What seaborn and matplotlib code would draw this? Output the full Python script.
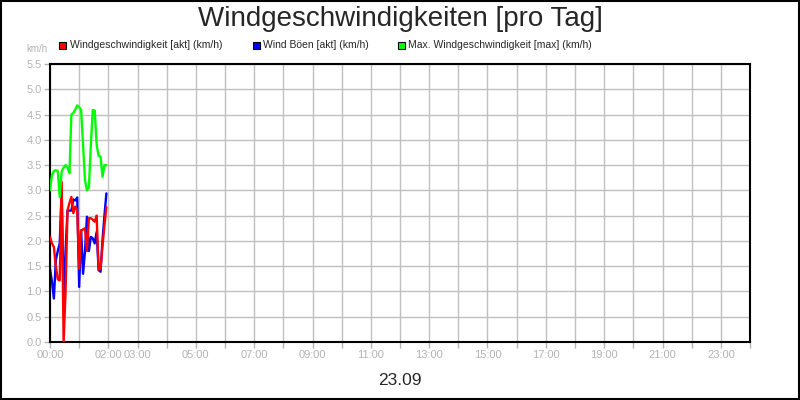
import matplotlib
matplotlib.use('Agg')
import matplotlib.pyplot as plt
from matplotlib.patches import Rectangle
import seaborn as sns
import numpy as np
import pandas as pd

# Messzeitpunkte (Minuten nach Mitternacht)
minutes = [0, 4, 8, 12, 16, 20, 24, 28, 32, 36, 40, 44, 48, 52, 56,
           60, 64, 68, 72, 76, 80, 84, 88, 92, 96, 100, 104, 108, 112, 116]

wind_akt = [2.08, 1.95, 1.88, 1.50, 1.24, 1.22, 3.17, 0.00, 1.00, 2.60,
            2.75, 2.87, 2.55, 2.68, 2.60, 1.45, 2.20, 2.23, 2.25, 1.80,
            2.45, 2.45, 2.42, 2.38, 2.50, 1.43, 1.45, 1.90, 2.30, 2.67]
boeen_akt = [1.45, 1.20, 0.86, 1.62, 1.80, 1.95, 3.00, 0.85, 1.80, 2.60,
             2.60, 2.60, 2.82, 2.80, 2.86, 1.09, 2.21, 1.35, 1.80, 2.48,
             1.80, 2.08, 2.05, 1.95, 2.18, 1.42, 1.39, 2.02, 2.50, 2.94]
wind_max = [3.00, 3.30, 3.38, 3.40, 3.38, 2.87, 3.37, 3.45, 3.50, 3.45,
            3.34, 4.50, 4.53, 4.60, 4.68, 4.65, 4.59, 3.90, 3.20, 3.00,
            3.05, 3.90, 4.59, 4.58, 3.90, 3.68, 3.67, 3.27, 3.50, 3.50]

series_names = ['Windgeschwindigkeit [akt] (km/h)',
                'Wind Böen [akt] (km/h)',
                'Max. Windgeschwindigkeit [max] (km/h)']
series_colors = ['#ff0000', '#0000ff', '#00ff00']

hour_ticks = list(range(0, 25))
labeled_hours = [0, 2, 3, 5, 7, 9, 11, 13, 15, 17, 19, 21, 23]
y_ticks = [i * 0.5 for i in range(12)]

hours = np.array(minutes) / 60.0
series_values = [wind_akt, boeen_akt, wind_max]

sns.set_style('whitegrid')
plt.rcParams['font.family'] = ['Liberation Sans', 'DejaVu Sans']

fig = plt.figure(figsize=(8, 4), dpi=100)
ax = fig.add_axes([0.0625, 0.145, 0.875, 0.695])

# Reihenfolge: Böen unten, dann akt. Wind, dann Maximum
for idx, z in zip([1, 0, 2], [2, 3, 4]):
    d = pd.DataFrame({'Stunde': hours, 'Wert': series_values[idx]})
    sns.lineplot(data=d, x='Stunde', y='Wert', color=series_colors[idx],
                 linewidth=1.7, ax=ax, sort=False, zorder=z)

ax.set_xlim(0, 24)
ax.set_ylim(0, 5.5)
ax.set_xticks(hour_ticks)
ax.set_xticklabels(['%02d:00' % h if h in labeled_hours else '' for h in hour_ticks])
ax.set_yticks(y_ticks)
ax.set_yticklabels(['%.1f' % v for v in y_ticks])
ax.tick_params(axis='both', colors='#b4b4b4', labelsize=8, length=4, width=1,
               direction='out', pad=2)
ax.tick_params(axis='x', bottom=True)
ax.tick_params(axis='y', left=True)
ax.grid(True, color='#c0c0c0', linewidth=1)
ax.set_xlabel('')
ax.set_ylabel('')
for sp in ax.spines.values():
    sp.set_color('black')
    sp.set_linewidth(1.5)
    sp.set_visible(True)

# Titel, Einheit und Datum
fig.text(0.5, 0.952, 'Windgeschwindigkeiten [pro Tag]', ha='center', va='center', fontsize=20)
fig.text(0.046, 0.878, 'km/h', ha='center', va='center', fontsize=7, color='#b4b4b4')
fig.text(0.5, 0.048, '23.09', ha='center', va='center', fontsize=12.5)

# Legende
legend_x = [0.074, 0.316, 0.497]
for lx, name, col in zip(legend_x, series_names, series_colors):
    fig.patches.append(Rectangle((lx, 0.878), 0.009, 0.018, transform=fig.transFigure,
                                 facecolor=col, edgecolor='black', linewidth=0.8))
    fig.text(lx + 0.013, 0.887, name, ha='left', va='center', fontsize=7.5)

# Rahmen
fig.patches.append(Rectangle((0.001, 0.002), 0.998, 0.996, transform=fig.transFigure,
                             facecolor='none', edgecolor='black', linewidth=1.5))

fig.savefig('out.png', dpi=100)
